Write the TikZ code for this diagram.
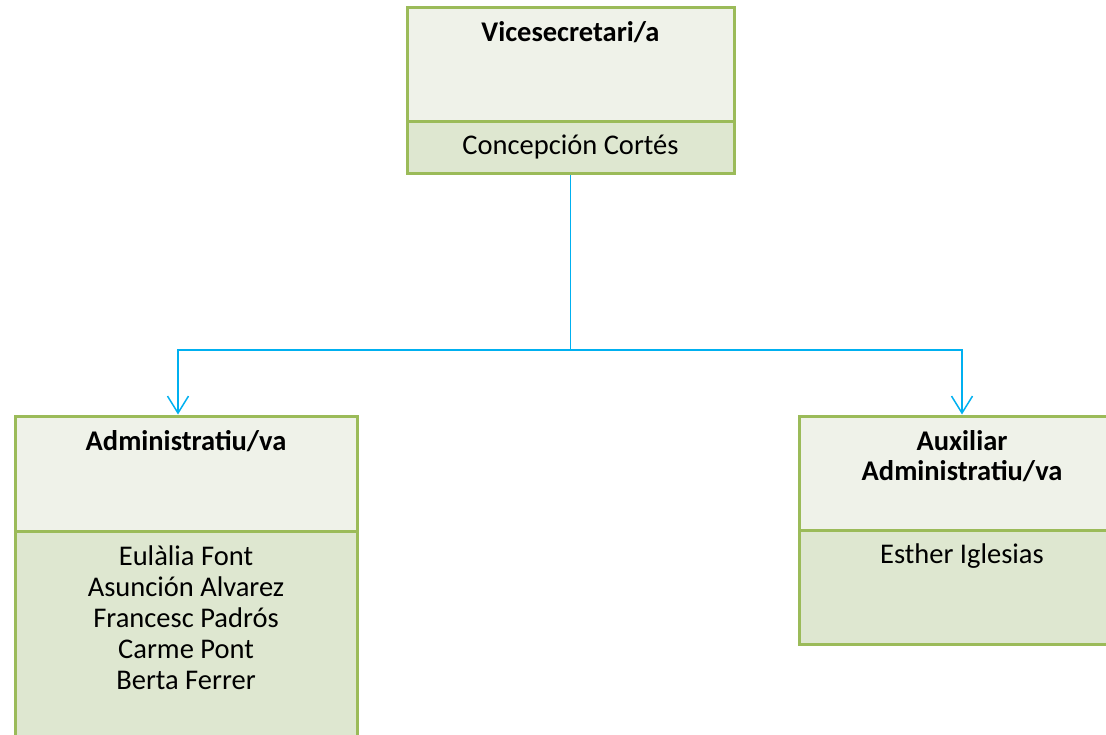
\documentclass[tikz,border=0pt]{standalone}
\usepackage{fontspec}
\setmainfont{Carlito}
\usetikzlibrary{arrows.meta}

\definecolor{boxgreen}{RGB}{155,187,89}
\definecolor{headfill}{RGB}{239,242,233}
\definecolor{bodyfill}{RGB}{222,231,208}
\definecolor{linkblue}{RGB}{0,176,240}

\tikzset{
	boxpart/.style={draw=boxgreen,line width=3pt,anchor=north west,inner sep=0pt,outer sep=0pt,minimum width=#1},
	boxhead/.style={boxpart=#1,fill=headfill},
	boxbody/.style={boxpart=#1,fill=bodyfill},
	titletext/.style={anchor=base,align=center,inner sep=0pt,font=\fontsize{28.5}{30}\selectfont\bfseries},
	nametext/.style={anchor=base,align=center,inner sep=0pt,font=\fontsize{28.5}{31}\selectfont},
	link/.style={draw=linkblue,line width=1.5pt,-{Straight Barb[length=17pt,width=21pt,line width=1.5pt]}}
}

\begin{document}
\begin{tikzpicture}[x=1pt,y=-1pt]
	\clip (0,0) rectangle (1106,735);
	\useasboundingbox (0,0) rectangle (1106,735);

	% boxes
	\node[boxhead=327pt,minimum height=114pt] (vhead) at (407,8) {};
	\node[boxbody=327pt,minimum height=52pt] (vbody) at (407,122) {};
	\node[boxhead=342pt,minimum height=115pt] (ahead) at (15,416) {};
	\node[boxbody=342pt,minimum height=240pt] (abody) at (15,531) {};
	\node[boxhead=326pt,minimum height=114pt] (xhead) at (799,416) {};
	\node[boxbody=326pt,minimum height=114pt] (xbody) at (799,530) {};

	% texts (base = last line)
	\node[titletext] (vtitle) at (570.5,42) {Vicesecretari/a};
	\node[nametext] (vname) at (570.5,155) {Concepción Cortés};
	\node[titletext] (atitle) at (186,450) {Administratiu/va};
	\node[nametext] (anames) at (186,689) {Eulàlia Font\\Asunción Alvarez\\Francesc Padrós\\Carme Pont\\Berta Ferrer};
	\node[titletext] (xtitle) at (962,480) {Auxiliar\\Administratiu/va};
	\node[nametext] (xname) at (962,563) {Esther Iglesias};

	% connectors
	\coordinate (fork) at (vbody.south |- 0,350);
	\draw[draw=linkblue,line width=1.5pt] ([yshift=-1.5pt]vbody.south) -- (fork);
	\path[link] (fork) -| ([xshift=-8pt,yshift=1.5pt]ahead.north);
	\path[link] (fork) -| ([yshift=1.5pt]xhead.north);
\end{tikzpicture}
\end{document}
